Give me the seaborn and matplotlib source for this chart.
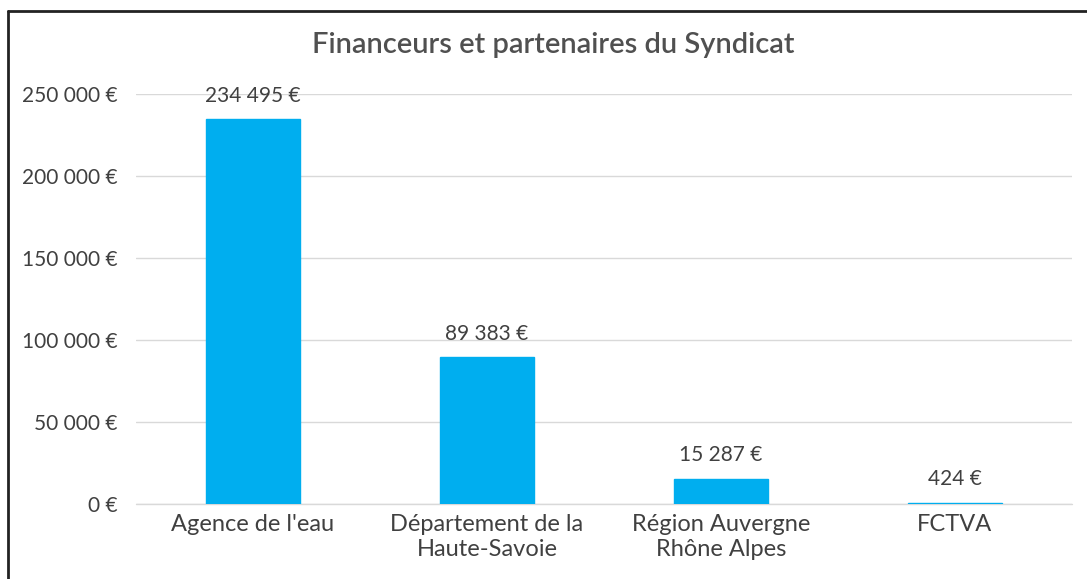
import seaborn as sns
import pandas as pd
import matplotlib.pyplot as plt
from matplotlib.lines import Line2D
from matplotlib.ticker import FuncFormatter

# données
financeurs = ["Agence de l'eau", "Département de la\nHaute-Savoie",
              "Région Auvergne\nRhône Alpes", "FCTVA"]
montants = [234495, 89383, 15287, 424]
yticks = [0, 50000, 100000, 150000, 200000, 250000]

sns.set_theme(style="white")
plt.rcParams['font.family'] = ['Lato', 'DejaVu Sans']

df = pd.DataFrame({"financeur": financeurs, "montant": montants})


def euros(v, pos=None):
    return "{:,.0f} €".format(v).replace(",", " ")


fig = plt.figure(figsize=(10.87, 5.79), dpi=100)
ax = fig.add_axes([0.1251, 0.1295, 0.8611, 0.7082])

sns.barplot(data=df, x="financeur", y="montant", color="#00AEEF",
            saturation=1, width=0.4, edgecolor="#00AEEF", linewidth=1,
            ax=ax)

ax.set_ylim(0, 250000)
ax.set_yticks(yticks)
ax.yaxis.set_major_formatter(FuncFormatter(euros))
ax.grid(axis="y", color="#d9d9d9", linewidth=1)
ax.set_axisbelow(True)
ax.axhline(0, color="#d9d9d9", linewidth=1, clip_on=False, zorder=0.5)
ax.set(xlabel="", ylabel="")
sns.despine(left=True, bottom=True)
ax.tick_params(axis="both", length=0, colors="#404040")
ax.tick_params(axis="y", pad=13.5, labelsize=15)
ax.tick_params(axis="x", pad=7, labelsize=17)
for lab in ax.get_xticklabels():
    lab.set_linespacing(1.25)

for cont in ax.containers:
    ax.bar_label(cont, labels=[euros(v) for v in montants], padding=10,
                 fontsize=15, color="#404040")

fig.text(0.509, 0.922, "Financeurs et partenaires du Syndicat",
         ha="center", va="center", fontsize=21, color="#505050",
         fontweight="semibold")

# cadre noir de la capture
fig.add_artist(Line2D([0.0069, 0.0069], [0, 0.981], color="#222222", lw=2))
fig.add_artist(Line2D([0.0069, 1], [0.981, 0.981], color="#222222", lw=2))

fig.savefig("out.png", dpi=100)
